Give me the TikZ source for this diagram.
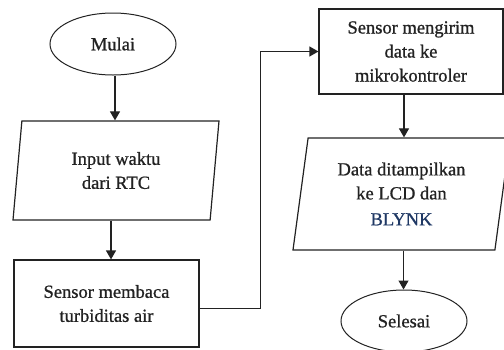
\documentclass[tikz,border=0pt]{standalone}
\usepackage{fontspec}
\setmainfont{Liberation Serif}[UprightFeatures={FakeBold=0.9}]
\usetikzlibrary{shapes.geometric,arrows.meta}
\definecolor{ink}{HTML}{222222}
\definecolor{blynkblue}{HTML}{1F3864}
\tikzset{
  base/.style={draw=ink, line width=1.2pt, text=ink, align=center,
    font=\fontsize{18.5}{24}\selectfont, inner sep=0pt},
  terminal/.style={base, ellipse, line width=1pt, minimum width=126pt, minimum height=62pt},
  process/.style={base, rectangle},
  io/.style={base, trapezium, trapezium left angle=76.5, trapezium right angle=103.5,
    trapezium stretches body},
  flow/.style={draw=ink, line width=1.2pt, -{Triangle[length=9pt,width=10pt]}}
}
\begin{document}
\begin{tikzpicture}[x=1pt,y=-1pt]
  \useasboundingbox (0,0) rectangle (504,349);
  \begin{scope}
    \clip (0,0) rectangle (504,349);
    % left column
    \node[terminal] (mulai) at (113,44) {Mulai};
    \node[io, minimum width=206pt, minimum height=99pt] (input) at (116,170.5)
      {Input waktu\\dari RTC};
    \node[process, minimum width=185pt, minimum height=87pt] (baca) at (106.5,303.5)
      {Sensor membaca\\turbiditas air};
    % right column
    \node[process, minimum width=184pt, minimum height=85pt] (kirim) at (411,51.5)
      {Sensor mengirim\\data ke\\mikrokontroler};
    \node[io, minimum width=217pt, minimum height=112pt] (tampil) at (401.5,194)
      {Data ditampilkan\\ke LCD dan\\[2pt]\textcolor{blynkblue}{BLYNK}};
    \node[terminal] (selesai) at (404,321) {Selesai};
  \end{scope}
  % connectors
  \draw[flow] ([xshift=2pt]mulai.south) -- ([xshift=2pt]mulai.south |- input.north);
  \draw[flow] ([xshift=-5pt]input.south) -- ([xshift=-5pt]input.south |- baca.north);
  \draw[flow] ([yshift=-5pt]baca.east) -- ++(61,0) |- (kirim.west);
  \draw[flow] ([xshift=-7pt]kirim.south) -- ([xshift=-7pt]kirim.south |- tampil.north);
  \draw[flow] ([xshift=2pt]tampil.south) -- ([xshift=2pt]tampil.south |- selesai.north);
\end{tikzpicture}
\end{document}
